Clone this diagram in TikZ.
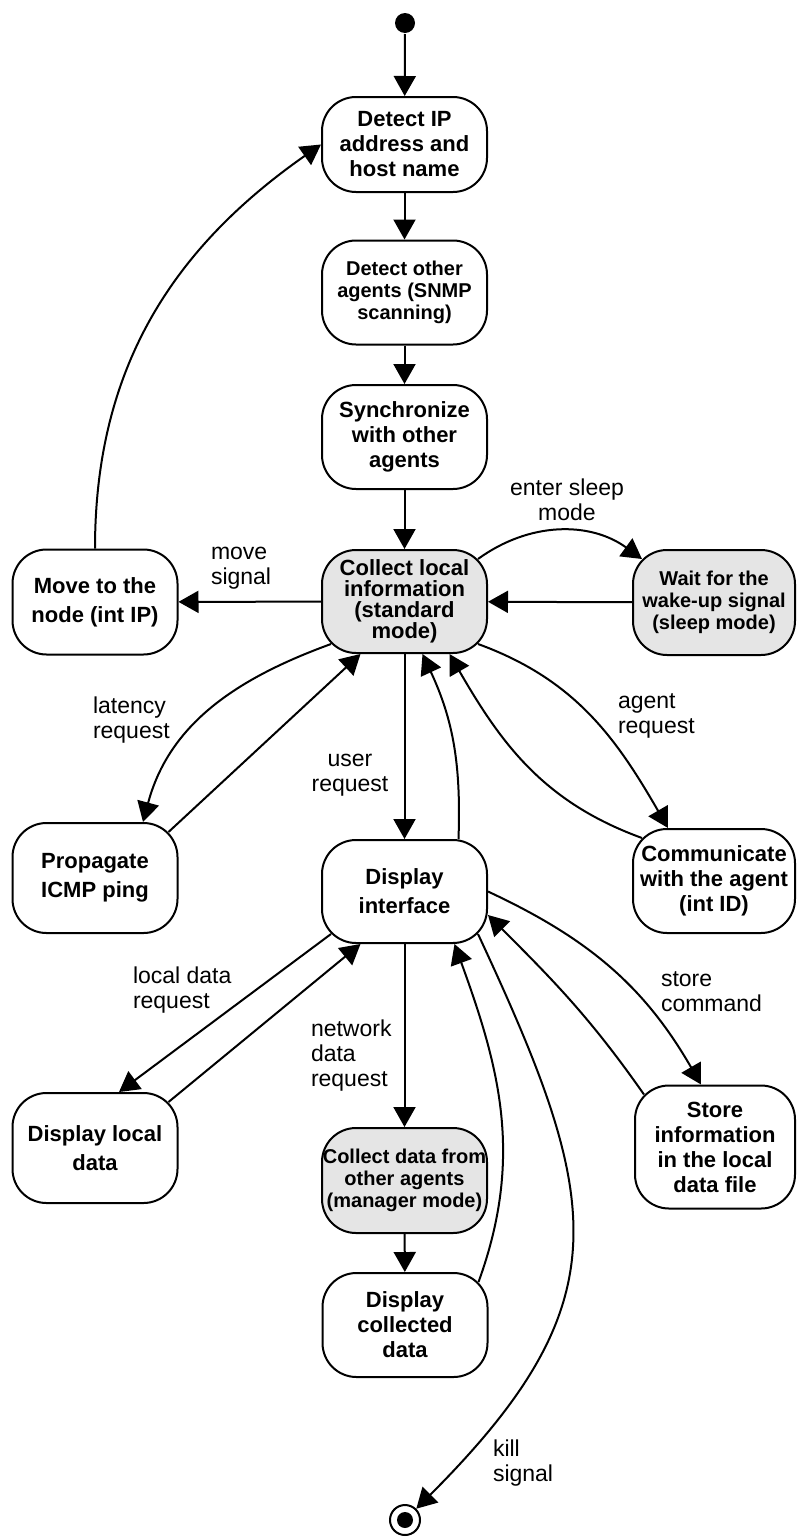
\documentclass[tikz,border=0pt]{standalone}
\usepackage{fontspec}
\setmainfont{Liberation Sans}
\usetikzlibrary{arrows.meta}

\tikzset{
  state/.style={draw, line width=1pt, rounded corners=17pt, align=center, inner sep=0pt,
    minimum width=82.5pt, font=\bfseries\fontsize{11}{12.5}\selectfont},
  busy/.style={state, fill=black!10},
  twoline/.style={font=\bfseries\fontsize{11}{14.5}\selectfont},
  smalltext/.style={font=\bfseries\fontsize{10}{11}\selectfont},
  lbl/.style={align=left, inner sep=0pt, font=\fontsize{11.5}{12.5}\selectfont},
}

\begin{document}
\begin{tikzpicture}[x=0.5pt, y=0.5pt, >={Triangle[length=10pt,width=11pt]}, line width=1pt]
\useasboundingbox (0,0) rectangle (797,-1537);

% start and end
\node[circle, fill, inner sep=0pt, minimum size=10pt] (start) at (405,-23) {};
\node[circle, draw, inner sep=0pt, minimum size=15pt] (stop) at (405,-1520) {};
\fill (stop) circle (4pt);

% states
\node[state, minimum height=47.5pt] (detip) at (404.5,-144.5) {Detect IP\\address and\\host name};
\node[state, smalltext, minimum height=52pt] (detag) at (404.5,-292.5) {Detect other\\agents (SNMP\\scanning)};
\node[state, minimum height=52pt] (sync) at (404.5,-437) {Synchronize\\with other\\agents};
\node[busy, font=\bfseries\fontsize{11}{10.5}\selectfont, minimum height=51.5pt] (coll) at (404.5,-601.5) {Collect local\\information\\(standard\\mode)};
\node[state, twoline, minimum height=52.5pt] (move) at (95,-602) {Move to the\\node (int IP)};
\node[busy, smalltext, minimum width=81pt, minimum height=52.5pt] (wait) at (714,-602.5) {Wait for the\\wake-up signal\\(sleep mode)};
\node[state, twoline, minimum height=55pt] (prop) at (95,-878) {Propagate\\ICMP ping};
\node[state, twoline, minimum height=51.5pt] (disp) at (404.5,-891.5) {Display\\interface};
\node[state, minimum width=81pt, minimum height=52pt] (comm) at (714,-881) {Communicate\\with the agent\\(int ID)};
\node[state, twoline, minimum height=55pt] (dloc) at (95,-1148) {Display local\\data};
\node[busy, smalltext, minimum height=52.5pt] (cdat) at (404.5,-1180.5) {Collect data from\\other agents\\(manager mode)};
\node[state, minimum width=80pt, minimum height=61.5pt] (store) at (715,-1147) {Store\\information\\in the local\\data file};
\node[state, minimum height=52pt] (dcol) at (405,-1325) {Display\\collected\\data};

% labels
\node[lbl, anchor=west] (lmove) at (210,-568) {move\\signal};
\node[lbl, align=center] (lsleep) at (567,-500) {enter sleep\\mode};
\node[lbl, anchor=west] (llat) at (92,-720) {latency\\request};
\node[lbl, align=center] (luser) at (350,-775) {user\\request};
\node[lbl, anchor=west] (lagent) at (617,-716) {agent\\request};
\node[lbl, anchor=west] (lloc) at (132,-990) {local data\\request};
\node[lbl, anchor=west] (lnet) at (310,-1056) {network\\data\\request};
\node[lbl, anchor=west] (lstore) at (660,-992) {store\\command};
\node[lbl, anchor=west] (lkill) at (492,-1463) {kill\\signal};

% straight transitions
\draw[->] (start) -- (detip);
\draw[->] (detip) -- (detag);
\draw[->] (detag) -- (sync);
\draw[->] (sync) -- (coll);
\draw[->] (coll) -- (move);
\draw[->] (wait) -- (coll);
\draw[->] (coll) -- (disp);
\draw[->] (disp) -- (cdat);
\draw[->] (cdat) -- (dcol);
\draw[->] ([shift={(-10,-10)}]prop.north east) -- ([xshift=-22pt]coll.south);
\draw[->] ([shift={(10,10)}]disp.south west) -- ([xshift=12pt]dloc.north);
\draw[->] ([shift={(-10,-10)}]dloc.north east) -- ([xshift=-22pt]disp.south);

% curved transitions
\draw[->] (move.north) to[out=90, in=215] (detip.west);
\draw[->] ([shift={(-10,-10)}]coll.north east) to[bend left=36] ([shift={(10,-10)}]wait.north west);
\draw[->] ([shift={(10,10)}]coll.south west) to[out=200, in=75] ([xshift=24pt]prop.north);
\draw[->] ([xshift=27pt]disp.north) to[out=88, in=-65] ([xshift=9pt]coll.south);
\draw[->] ([shift={(10,-10)}]comm.north west) to[out=160, in=-60] ([xshift=22.5pt]coll.south);
\draw[->] ([shift={(-10,10)}]coll.south east) to[out=-20, in=120] ([xshift=-23pt]comm.north);
\draw[->] ([shift={(-10,-10)}]dcol.north east) to[out=70, in=-70] ([xshift=25pt]disp.south);
\draw[->] (disp.east) to[out=-25, in=120] ([xshift=-7pt]store.north);
\draw[->] ([shift={(10,-10)}]store.north west) to[out=125, in=-45] ([yshift=-11.75pt]disp.east);
\draw[->] ([shift={(-10,10)}]disp.south east) to[out=-65, in=45, looseness=1.3] (stop);
\end{tikzpicture}
\end{document}
